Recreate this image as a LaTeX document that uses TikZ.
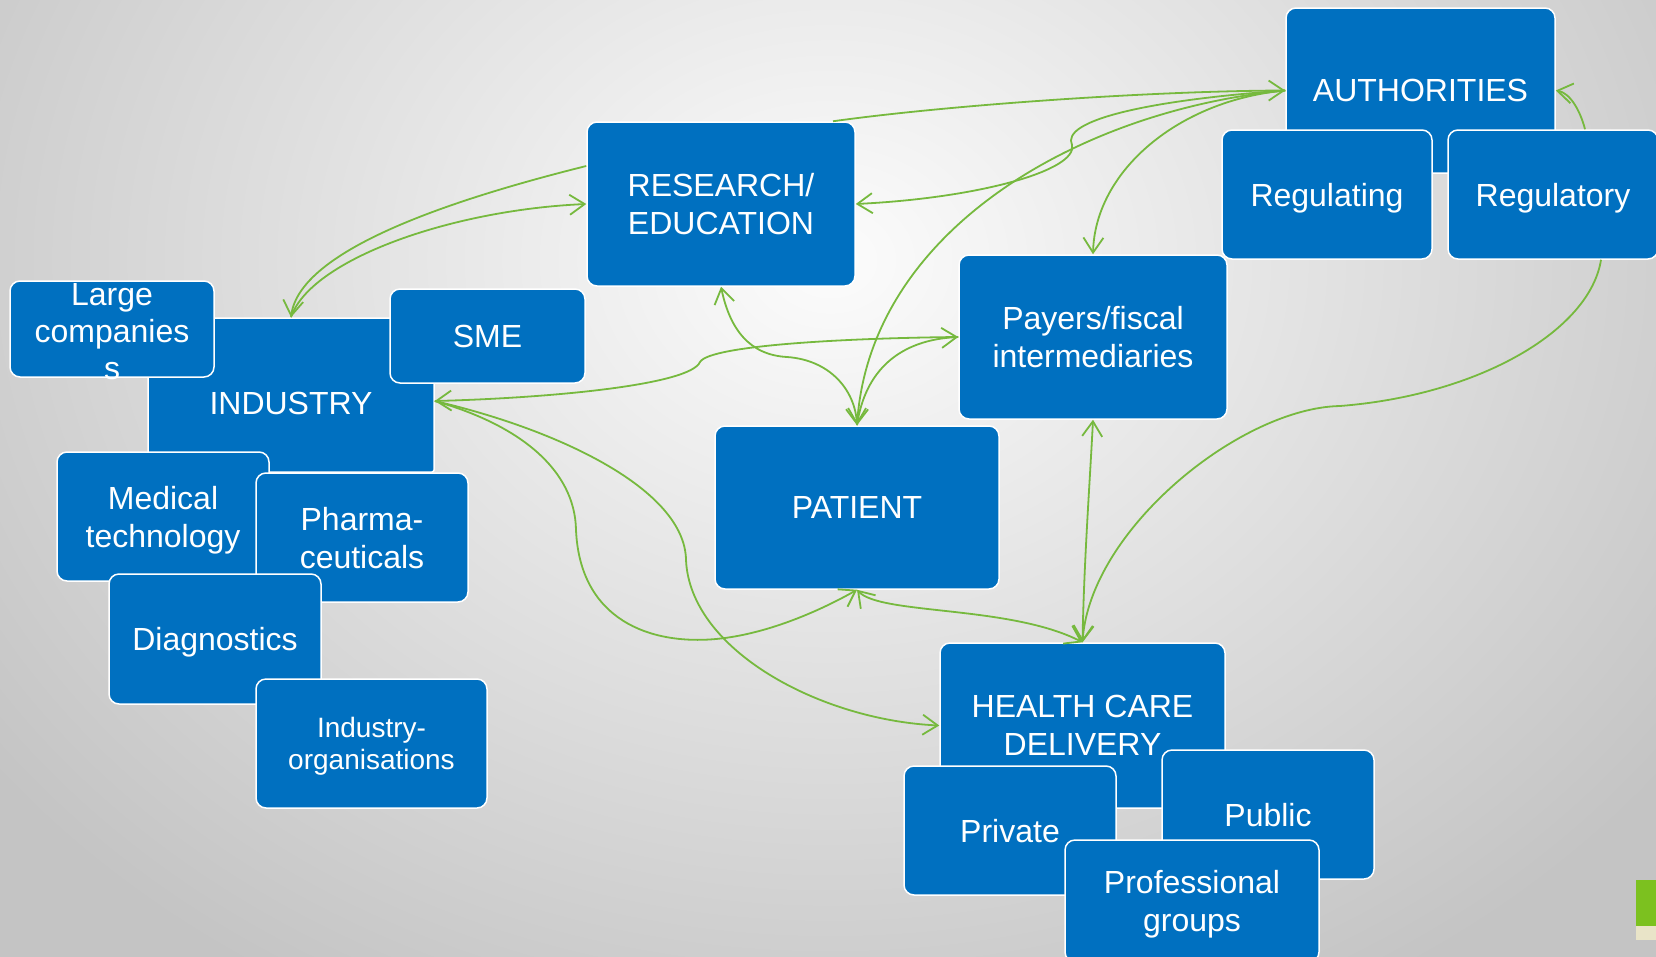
\documentclass[tikz,border=0pt]{standalone}
\usepackage{fontspec}
\setmainfont{Liberation Sans}
\usetikzlibrary{arrows.meta,calc}
\definecolor{boxblue}{RGB}{0,112,192}
\definecolor{linkgreen}{RGB}{118,185,62}
\definecolor{bggray}{RGB}{196,196,196}
\definecolor{bginner}{RGB}{252,252,252}
\definecolor{picgreen}{RGB}{124,193,31}
\definecolor{piccream}{RGB}{233,228,200}
\begin{document}
\begin{tikzpicture}[x=1pt,y=-1pt,
 box/.style={draw=white, line width=1.5pt, fill=boxblue, rounded corners=10pt, text=white, align=center, inner sep=0pt, text depth=-4pt, font=\fontsize{32}{38}\selectfont},
 lbl/.style={text=white, align=center, inner sep=0pt, text depth=0pt, font=\fontsize{32}{37}\selectfont},
 link/.style={draw=linkgreen, line width=1.8pt, -{Straight Barb[length=15pt,width=20pt]}},
 link2/.style={draw=linkgreen, line width=1.8pt, {Straight Barb[length=15pt,width=20pt]}-{Straight Barb[length=15pt,width=20pt]}}]
\useasboundingbox (0,0) rectangle (1656,956);
% background
\fill[bggray] (-10,-10) rectangle (1666,966);
\begin{scope}
\clip (-10,-10) rectangle (1666,966);
\shade[inner color=bginner, outer color=bggray] (830,260) ellipse [x radius=1050pt, y radius=850pt];
\end{scope}
\fill[picgreen] (1636,880) rectangle (1666,926);
\fill[piccream] (1636,926) rectangle (1666,940);
% authorities group
\node[box, minimum width=269pt, minimum height=165pt] (auth) at (1420.5,90.5) {AUTHORITIES};
\node[box, minimum width=210pt, minimum height=129pt] (regg) at (1327,194.5) {Regulating};
\node[box, minimum width=210pt, minimum height=129pt] (regy) at (1553,194.5) {Regulatory};
% research, payers, patient
\node[box, minimum width=268pt, minimum height=164pt] (res) at (721,204) {RESEARCH/\\EDUCATION};
\node[box, minimum width=268pt, minimum height=164pt] (pay) at (1093,337) {Payers/fiscal\\intermediaries};
\node[box, minimum width=284pt, minimum height=163pt] (pat) at (857,507.5) {PATIENT};
% health care group
\node[box, minimum width=285pt, minimum height=165pt] (hcd) at (1082.5,725.5) {HEALTH CARE\\DELIVERY};
\node[box, minimum width=212pt, minimum height=129pt] (priv) at (1010,830.5) {Private};
\node[box, minimum width=212pt, minimum height=129pt] (pub) at (1268,814.5) {Public};
\node[box, minimum width=254pt, minimum height=122pt] (prof) at (1192,901) {Professional\\groups};
% industry group
\node[box, rounded corners=2pt, minimum width=286pt, minimum height=154pt] (indu) at (291,395) {};
\node[lbl] (indutxt) at (291,403) {INDUSTRY};
\node[box, minimum width=204pt, minimum height=96pt] (large) at (112,329) {};
\node[lbl] (largetxt) at (112,331) {Large\\companies\\s};
\node[box, minimum width=195pt, minimum height=94pt] (sme) at (487.5,336) {SME};
\node[box, minimum width=212pt, minimum height=129pt] (med) at (163,516.5) {Medical\\technology};
\node[box, minimum width=212pt, minimum height=129pt] (pha) at (362,537.5) {Pharma-\\ceuticals};
\node[box, minimum width=212pt, minimum height=130pt] (dia) at (215,639) {Diagnostics};
\node[box, minimum width=231pt, minimum height=129pt, font=\fontsize{28}{32}\selectfont, text depth=-2pt] (iorg) at (371.5,743.5) {Industry-\\organisations};
% connectors
\draw[link] ($(res.west)+(0,-38)$) .. controls (450,200) and (300,250) .. (indu.north);
\draw[link] (indu.north) .. controls (310,260) and (450,210) .. (res.west);
\draw[link] ($(res.north)+(112,0)$) .. controls (950,105) and (1150,91) .. (auth.west);
\draw[link] (auth.west) .. controls (1150,100) and (1060,120) .. (1072,145) .. controls (1078,170) and (980,198) .. (res.east);
\draw[link] (auth.west) .. controls (1080,110) and (870,230) .. (pat.north);
\draw[link] (auth.west) .. controls (1180,100) and (1095,170) .. (pay.north);
\draw[link2] (res.south) .. controls (730,330) and (750,355) .. (787,357) .. controls (830,360) and (855,390) .. (pat.north);
\draw[link] (pat.north) .. controls (865,370) and (900,340) .. (pay.west);
\draw[link] (pay.west) .. controls (850,338) and (710,345) .. (700,362) .. controls (690,385) and (550,398) .. ($(indu.east)+(0,6)$);
\draw[link] ($(indu.east)+(0,6)$) .. controls (520,425) and (575,470) .. (576,530) .. controls (580,620) and (650,645) .. (716,639) .. controls (770,634) and (825,608) .. (pat.south);
\draw[link] ($(indu.east)+(0,6)$) .. controls (560,430) and (685,490) .. (686,560) .. controls (690,650) and (820,720) .. (hcd.west);
\draw[link2] (pat.south) .. controls (880,615) and (1010,605) .. (hcd.north);
\draw[link2] (pay.south) .. controls (1090,480) and (1084,560) .. (hcd.north);
\draw[link] ($(regy.south)+(48,0)$) .. controls (1590,330) and (1480,395) .. (1340,406) .. controls (1240,408) and (1090,530) .. (hcd.north);
\draw[link] ($(regy.north)+(32,0)$) .. controls (1580,110) and (1570,93) .. (auth.east);
\end{tikzpicture}
\end{document}
